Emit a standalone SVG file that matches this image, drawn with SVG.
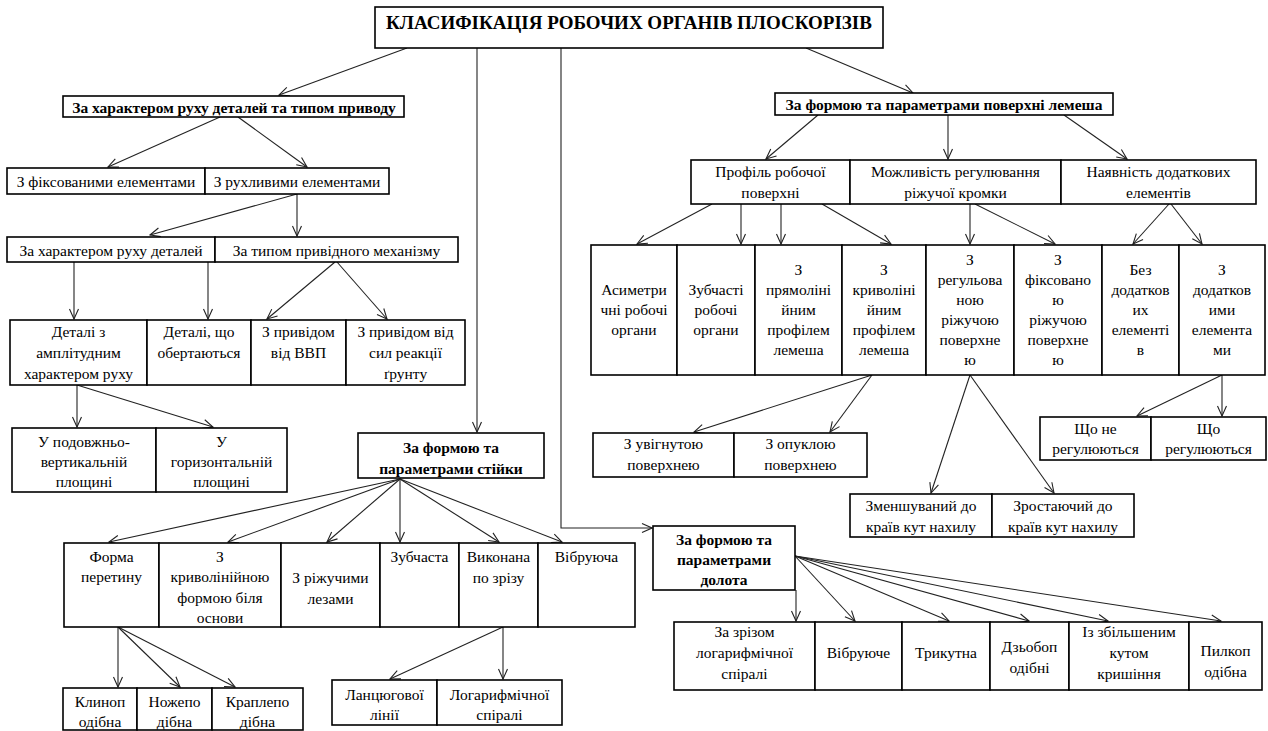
<svg xmlns="http://www.w3.org/2000/svg" width="1268" height="731" viewBox="0 0 1268 731">
<style>
.b{fill:#fff;stroke:#000;stroke-width:1.6}
.t{font-family:"Liberation Serif","Times New Roman",serif;font-size:15.5px;text-anchor:middle;fill:#000}
.tb{font-family:"Liberation Serif","Times New Roman",serif;font-size:15.5px;font-weight:bold;text-anchor:middle;fill:#000}
.c{fill:none;stroke:#222;stroke-width:1.1;marker-end:url(#ah)}
</style>
<defs>
<marker id="ah" viewBox="0 0 12 12" refX="11" refY="6" markerWidth="12" markerHeight="12" markerUnits="userSpaceOnUse" orient="auto"><path d="M1,1.5 L11,6 L1,10.5" fill="none" stroke="#222" stroke-width="1.1"/></marker>
</defs>
<rect width="1268" height="731" fill="#fff"/>
<g id="connectors">
<path class="c" d="M407,48 L279,95"/>
<path class="c" d="M477,48 L477,432"/>
<path class="c" d="M561,48 L561,528 L652,528"/>
<path class="c" d="M806,48 L913,93"/>
<path class="c" d="M220,117 L108,167"/>
<path class="c" d="M238,117 L307,167"/>
<path class="c" d="M297,194 L150,235"/>
<path class="c" d="M297,194 L297,236"/>
<path class="c" d="M74,262 L74,319"/>
<path class="c" d="M208,262 L208,319"/>
<path class="c" d="M335,262 L267,319"/>
<path class="c" d="M337,262 L387,319"/>
<path class="c" d="M77,385 L77,427"/>
<path class="c" d="M77,385 L213,427"/>
<path class="c" d="M400,479 L109,542"/>
<path class="c" d="M400,479 L228,542"/>
<path class="c" d="M400,479 L327,542"/>
<path class="c" d="M400,479 L400,542"/>
<path class="c" d="M400,479 L499,542"/>
<path class="c" d="M400,479 L562,542"/>
<path class="c" d="M118,627 L118,687"/>
<path class="c" d="M118,627 L180,687"/>
<path class="c" d="M118,627 L235,687"/>
<path class="c" d="M503,627 L390,679"/>
<path class="c" d="M503,627 L503,679"/>
<path class="c" d="M818,115 L766,159"/>
<path class="c" d="M948,115 L948,159"/>
<path class="c" d="M1064,115 L1127,159"/>
<path class="c" d="M712,204 L637,244"/>
<path class="c" d="M741,204 L741,244"/>
<path class="c" d="M781,204 L781,244"/>
<path class="c" d="M822,204 L891,244"/>
<path class="c" d="M970,200 L970,244"/>
<path class="c" d="M975,204 L1055,244"/>
<path class="c" d="M1169,204 L1133,244"/>
<path class="c" d="M1171,204 L1202,244"/>
<path class="c" d="M872,375 L694,432"/>
<path class="c" d="M872,375 L830,432"/>
<path class="c" d="M970,375 L931,493"/>
<path class="c" d="M970,375 L1054,493"/>
<path class="c" d="M1222,375 L1137,416"/>
<path class="c" d="M1222,375 L1222,416"/>
<path class="c" d="M796,590 L796,621"/>
<path class="c" d="M795,556 L855,621"/>
<path class="c" d="M795,556 L949,621"/>
<path class="c" d="M795,556 L1029,621"/>
<path class="c" d="M795,556 L1108,621"/>
<path class="c" d="M795,556 L1221,621"/>
</g>
<g id="title"><rect class="b" x="375" y="7" width="508" height="41"/><text class="tb" style="font-size:19px" x="629" y="29">КЛАСИФІКАЦІЯ РОБОЧИХ ОРГАНІВ ПЛОСКОРІЗІВ</text></g>
<g id="nA"><rect class="b" x="63" y="96" width="341" height="21"/><text class="tb" x="234" y="113">За характером руху деталей та типом приводу</text></g>
<g id="b1"><rect class="b" x="7" y="168" width="198" height="26"/><text class="t" x="106" y="187">З фіксованими елементами</text></g>
<g id="b2"><rect class="b" x="205" y="168" width="184" height="26"/><text class="t" x="297" y="187">З рухливими елементами</text></g>
<g id="c1"><rect class="b" x="7" y="237" width="208" height="25"/><text class="t" x="111" y="256">За характером руху деталей</text></g>
<g id="c2"><rect class="b" x="215" y="237" width="243" height="25"/><text class="t" x="336.5" y="256">За типом привідного механізму</text></g>
<g id="d1"><rect class="b" x="10" y="320" width="137" height="65"/><text class="t" x="78.5" y="337">Деталі з</text><text class="t" x="78.5" y="358">амплітудним</text><text class="t" x="78.5" y="379">характером руху</text></g>
<g id="d2"><rect class="b" x="147" y="320" width="104" height="65"/><text class="t" x="199" y="337">Деталі, що</text><text class="t" x="199" y="358">обертаються</text></g>
<g id="d3"><rect class="b" x="251" y="320" width="95" height="65"/><text class="t" x="298.5" y="337">З привідом</text><text class="t" x="298.5" y="358">від ВВП</text></g>
<g id="d4"><rect class="b" x="346" y="320" width="119" height="65"/><text class="t" x="405.5" y="337">З привідом від</text><text class="t" x="405.5" y="358">сил реакції</text><text class="t" x="405.5" y="379">ґрунту</text></g>
<g id="e1"><rect class="b" x="12" y="428" width="144" height="64"/><text class="t" x="84" y="447">У подовжньо-</text><text class="t" x="84" y="467">вертикальній</text><text class="t" x="84" y="487">площині</text></g>
<g id="e2"><rect class="b" x="156" y="428" width="131" height="64"/><text class="t" x="221.5" y="447">У</text><text class="t" x="221.5" y="467">горизонтальній</text><text class="t" x="221.5" y="487">площині</text></g>
<g id="stiiky"><rect class="b" x="358" y="433" width="186" height="45"/><text class="tb" x="451" y="453">За формою та</text><text class="tb" x="451" y="474">параметрами стійки</text></g>
<g id="f1"><rect class="b" x="64" y="543" width="95" height="84"/><text class="t" x="111.5" y="562">Форма</text><text class="t" x="111.5" y="582">перетину</text></g>
<g id="f2"><rect class="b" x="159" y="543" width="122" height="84"/><text class="t" x="220" y="562">З</text><text class="t" x="220" y="582">криволінійною</text><text class="t" x="220" y="603">формою біля</text><text class="t" x="220" y="623">основи</text></g>
<g id="f3"><rect class="b" x="281" y="543" width="99" height="84"/><text class="t" x="330.5" y="583">З ріжучими</text><text class="t" x="330.5" y="604">лезами</text></g>
<g id="f4"><rect class="b" x="380" y="543" width="79" height="84"/><text class="t" x="419.5" y="562">Зубчаста</text></g>
<g id="f5"><rect class="b" x="459" y="543" width="79" height="84"/><text class="t" x="498.5" y="562">Виконана</text><text class="t" x="498.5" y="583">по зрізу</text></g>
<g id="f6"><rect class="b" x="538" y="543" width="97" height="84"/><text class="t" x="586.5" y="562">Вібруюча</text></g>
<g id="h1"><rect class="b" x="63" y="688" width="74" height="42"/><text class="t" x="100" y="707">Клиноп</text><text class="t" x="100" y="727">одібна</text></g>
<g id="h2"><rect class="b" x="137" y="688" width="75" height="42"/><text class="t" x="174.5" y="707">Ножепо</text><text class="t" x="174.5" y="727">дібна</text></g>
<g id="h3"><rect class="b" x="212" y="688" width="91" height="42"/><text class="t" x="257.5" y="707">Краплепо</text><text class="t" x="257.5" y="727">дібна</text></g>
<g id="i1"><rect class="b" x="332" y="680" width="105" height="45"/><text class="t" x="384.5" y="700">Ланцюгової</text><text class="t" x="384.5" y="720">лінії</text></g>
<g id="i2"><rect class="b" x="437" y="680" width="125" height="45"/><text class="t" x="499.5" y="700">Логарифмічної</text><text class="t" x="499.5" y="720">спіралі</text></g>
<g id="nK"><rect class="b" x="775" y="93" width="338" height="22"/><text class="tb" x="944" y="110">За формою та параметрами поверхні лемеша</text></g>
<g id="g1"><rect class="b" x="691" y="160" width="159" height="44"/><text class="t" x="770.5" y="177">Профіль робочої</text><text class="t" x="770.5" y="198">поверхні</text></g>
<g id="g2"><rect class="b" x="850" y="160" width="211" height="44"/><text class="t" x="955.5" y="177">Можливість регулювання</text><text class="t" x="955.5" y="198">ріжучої кромки</text></g>
<g id="g3"><rect class="b" x="1061" y="160" width="195" height="44"/><text class="t" x="1158.5" y="177">Наявність додаткових</text><text class="t" x="1158.5" y="198">елементів</text></g>
<g id="j1"><rect class="b" x="591" y="245" width="86" height="130"/><text class="t" x="634" y="295">Асиметри</text><text class="t" x="634" y="315">чні робочі</text><text class="t" x="634" y="335">органи</text></g>
<g id="j2"><rect class="b" x="677" y="245" width="78" height="130"/><text class="t" x="716" y="295">Зубчасті</text><text class="t" x="716" y="315">робочі</text><text class="t" x="716" y="335">органи</text></g>
<g id="j3"><rect class="b" x="755" y="245" width="87" height="130"/><text class="t" x="798.5" y="275">З</text><text class="t" x="798.5" y="295">прямоліні</text><text class="t" x="798.5" y="315">йним</text><text class="t" x="798.5" y="335">профілем</text><text class="t" x="798.5" y="355">лемеша</text></g>
<g id="j4"><rect class="b" x="842" y="245" width="84" height="130"/><text class="t" x="884" y="275">З</text><text class="t" x="884" y="295">криволіні</text><text class="t" x="884" y="315">йним</text><text class="t" x="884" y="335">профілем</text><text class="t" x="884" y="355">лемеша</text></g>
<g id="j5"><rect class="b" x="926" y="245" width="88" height="130"/><text class="t" x="970" y="265">З</text><text class="t" x="970" y="285">регульова</text><text class="t" x="970" y="305">ною</text><text class="t" x="970" y="325">ріжучою</text><text class="t" x="970" y="345">поверхне</text><text class="t" x="970" y="365">ю</text></g>
<g id="j6"><rect class="b" x="1014" y="245" width="88" height="130"/><text class="t" x="1058" y="265">З</text><text class="t" x="1058" y="285">фіксовано</text><text class="t" x="1058" y="305">ю</text><text class="t" x="1058" y="325">ріжучою</text><text class="t" x="1058" y="345">поверхне</text><text class="t" x="1058" y="365">ю</text></g>
<g id="j7"><rect class="b" x="1102" y="245" width="77" height="130"/><text class="t" x="1140.5" y="275">Без</text><text class="t" x="1140.5" y="295">додатков</text><text class="t" x="1140.5" y="315">их</text><text class="t" x="1140.5" y="335">елементі</text><text class="t" x="1140.5" y="355">в</text></g>
<g id="j8"><rect class="b" x="1179" y="245" width="86" height="130"/><text class="t" x="1222" y="275">З</text><text class="t" x="1222" y="295">додатков</text><text class="t" x="1222" y="315">ими</text><text class="t" x="1222" y="335">елемента</text><text class="t" x="1222" y="355">ми</text></g>
<g id="l1"><rect class="b" x="593" y="433" width="141" height="44"/><text class="t" x="663.5" y="449">З увігнутою</text><text class="t" x="663.5" y="470">поверхнею</text></g>
<g id="l2"><rect class="b" x="734" y="433" width="133" height="44"/><text class="t" x="800.5" y="449">З опуклою</text><text class="t" x="800.5" y="470">поверхнею</text></g>
<g id="m1"><rect class="b" x="850" y="494" width="142" height="43"/><text class="t" x="921" y="511">Зменшуваний до</text><text class="t" x="921" y="532">країв кут нахилу</text></g>
<g id="m2"><rect class="b" x="992" y="494" width="142" height="43"/><text class="t" x="1063" y="511">Зростаючий до</text><text class="t" x="1063" y="532">країв кут нахилу</text></g>
<g id="n1"><rect class="b" x="1040" y="417" width="111" height="43"/><text class="t" x="1095.5" y="434">Що не</text><text class="t" x="1095.5" y="454">регулюються</text></g>
<g id="n2"><rect class="b" x="1151" y="417" width="115" height="43"/><text class="t" x="1208.5" y="434">Що</text><text class="t" x="1208.5" y="454">регулюються</text></g>
<g id="dolota"><rect class="b" x="653" y="526" width="142" height="64"/><text class="tb" x="724" y="545">За формою та</text><text class="tb" x="724" y="565">параметрами</text><text class="tb" x="724" y="585">долота</text></g>
<g id="o1"><rect class="b" x="674" y="622" width="141" height="68"/><text class="t" x="744.5" y="637">За зрізом</text><text class="t" x="744.5" y="658">логарифмічної</text><text class="t" x="744.5" y="679">спіралі</text></g>
<g id="o2"><rect class="b" x="815" y="622" width="87" height="68"/><text class="t" x="858.5" y="658">Вібруюче</text></g>
<g id="o3"><rect class="b" x="902" y="622" width="88" height="68"/><text class="t" x="946" y="658">Трикутна</text></g>
<g id="o4"><rect class="b" x="990" y="622" width="79" height="68"/><text class="t" x="1029.5" y="652">Дзьобоп</text><text class="t" x="1029.5" y="673">одібні</text></g>
<g id="o5"><rect class="b" x="1069" y="622" width="120" height="68"/><text class="t" x="1129" y="637">Із збільшеним</text><text class="t" x="1129" y="658">кутом</text><text class="t" x="1129" y="679">кришіння</text></g>
<g id="o6"><rect class="b" x="1189" y="622" width="73" height="68"/><text class="t" x="1225.5" y="656">Пилкоп</text><text class="t" x="1225.5" y="677">одібна</text></g>
</svg>
